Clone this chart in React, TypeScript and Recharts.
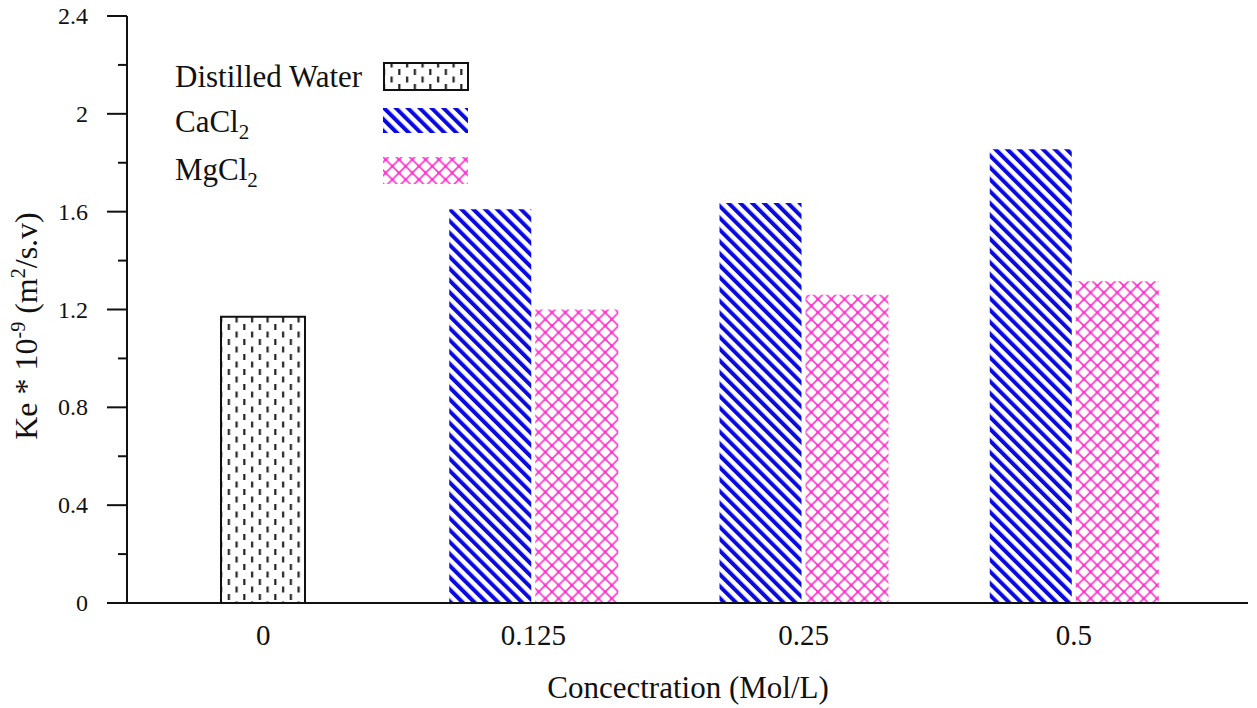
import React from 'react';
import { BarChart, Bar, XAxis, YAxis } from 'recharts';

const categories = ['0', '0.125', '0.25', '0.5'];
const distilledWater = [1.17, null, null, null];
const cacl2 = [null, 1.61, 1.635, 1.855];
const mgcl2 = [null, 1.2, 1.26, 1.315];
const yTicks = [0, 0.2, 0.4, 0.6, 0.8, 1.0, 1.2, 1.4, 1.6, 1.8, 2.0, 2.2, 2.4];
const majorTicks = [0, 0.4, 0.8, 1.2, 1.6, 2.0, 2.4];
const legendNames = ['Distilled Water', 'CaCl', 'MgCl'];
const xTitle = 'Concectration (Mol/L)';

const data = categories.map((c, i) => ({
  conc: c,
  water: distilledWater[i],
  ca: cacl2[i],
  mg: mgcl2[i],
}));

const FONT = "'Liberation Serif', Tinos, 'DejaVu Serif', serif";
const BLUE = '#0a0ae0';
const PINK = '#ff33cc';
const INK = '#111';
const fs = (size: number) => ({ fontFamily: FONT, fontSize: size });

const YTick = (props: any) => {
  const { x, y, payload } = props;
  const v = payload.value as number;
  const major = majorTicks.some((m) => Math.abs(m - v) < 1e-6);
  return (
    <g>
      <line x1={x - (major ? 20 : 9)} x2={x} y1={y} y2={y} stroke={INK} strokeWidth={2} />
      {major && (
        <text x={x - 39} y={y} textAnchor="end" dominantBaseline="central" style={fs(24)} fill={INK}>
          {String(v)}
        </text>
      )}
    </g>
  );
};

const XTick = (props: any) => {
  const { x, y, payload } = props;
  return (
    <text x={x} y={y} dy="0.71em" textAnchor="middle" style={fs(29)} fill={INK}>
      {payload.value}
    </text>
  );
};

const Patterns = () => (
  <svg width={0} height={0} style={{ position: 'absolute' }}>
    <defs>
      <pattern id="pWater" patternUnits="userSpaceOnUse" width={15.5} height={15}>
        <rect width={15.5} height={15} fill="#fff" />
        <rect x={3} y={1.5} width={2.2} height={6} fill="#222" />
        <rect x={10.75} y={9} width={2.2} height={6} fill="#222" />
      </pattern>
      <pattern id="pCa" patternUnits="userSpaceOnUse" width={8.4} height={8.4} patternTransform="rotate(-45)">
        <rect width={8.4} height={8.4} fill="#fff" />
        <rect width={4} height={8.4} fill={BLUE} />
      </pattern>
      <pattern id="pMg" patternUnits="userSpaceOnUse" width={13.3} height={13.3}>
        <rect width={13.3} height={13.3} fill="#fff" />
        <path d="M-3,-3 L16.3,16.3 M16.3,-3 L-3,16.3" stroke={PINK} strokeWidth={1.6} />
        <circle cx={6.65} cy={6.65} r={1.6} fill={PINK} />
        <circle cx={0} cy={0} r={1.6} fill={PINK} />
        <circle cx={13.3} cy={0} r={1.6} fill={PINK} />
        <circle cx={0} cy={13.3} r={1.6} fill={PINK} />
        <circle cx={13.3} cy={13.3} r={1.6} fill={PINK} />
      </pattern>
    </defs>
  </svg>
);

const Overlay = () => (
  <svg width={1257} height={708} style={{ position: 'absolute', left: 0, top: 0, pointerEvents: 'none' }}>
    <text x={175} y={87} style={fs(31)} fill={INK}>{legendNames[0]}</text>
    <rect x={384} y={63} width={84} height={27} fill="url(#pWater)" stroke={INK} strokeWidth={2} />
    <text x={175} y={132} style={fs(31)} fill={INK}>
      {legendNames[1]}
      <tspan dy={7} style={fs(21)}>2</tspan>
    </text>
    <rect x={383} y={108} width={85} height={25} fill="url(#pCa)" />
    <text x={175} y={180} style={fs(31)} fill={INK}>
      {legendNames[2]}
      <tspan dy={7} style={fs(21)}>2</tspan>
    </text>
    <rect x={383} y={157} width={85} height={27} fill="url(#pMg)" />
    <text x={688} y={698} textAnchor="middle" style={fs(31)} fill={INK}>{xTitle}</text>
    <text x={0} y={0} transform="translate(37,326) rotate(-90)" textAnchor="middle" style={fs(32)} fill={INK}>
      Ke * 10
      <tspan dy={-12} style={fs(20)}>-9</tspan>
      <tspan dy={12}> (m</tspan>
      <tspan dy={-12} style={fs(20)}>2</tspan>
      <tspan dy={12}>/s.v)</tspan>
    </text>
  </svg>
);

export default function App() {
  const pad = { left: 1, right: 39 };
  return (
    <div style={{ position: 'absolute', left: 0, top: 0, width: 1257, height: 708, background: '#fff', fontFamily: FONT }}>
      <Patterns />
      <BarChart
        width={1257}
        height={708}
        data={data}
        margin={{ top: 16, right: 9, bottom: 45, left: 0 }}
        barGap={4}
      >
        <XAxis
          xAxisId="main"
          dataKey="conc"
          height={60}
          padding={pad}
          tickLine={false}
          tickSize={0}
          tickMargin={21}
          axisLine={{ stroke: INK, strokeWidth: 2 }}
          tick={<XTick />}
        />
        <XAxis xAxisId="w" dataKey="conc" hide padding={pad} />
        <XAxis
          xAxisId="top"
          dataKey="conc"
          orientation="top"
          height={0}
          padding={pad}
          tick={false}
          tickLine={false}
          axisLine={{ stroke: INK, strokeWidth: 2 }}
        />
        <YAxis
          width={127}
          domain={[0, 2.4]}
          ticks={yTicks}
          interval={0}
          tickLine={false}
          tickSize={0}
          tickMargin={0}
          axisLine={{ stroke: INK, strokeWidth: 2 }}
          tick={<YTick />}
        />
        <YAxis
          yAxisId="r"
          orientation="right"
          width={0}
          domain={[0, 1]}
          tick={false}
          tickLine={false}
          axisLine={{ stroke: INK, strokeWidth: 2 }}
        />
        <Bar xAxisId="w" dataKey="water" barSize={84} fill="url(#pWater)" stroke={INK} strokeWidth={2} isAnimationActive={false} />
        <Bar xAxisId="main" dataKey="ca" barSize={82} fill="url(#pCa)" isAnimationActive={false} />
        <Bar xAxisId="main" dataKey="mg" barSize={83} fill="url(#pMg)" isAnimationActive={false} />
      </BarChart>
      <Overlay />
    </div>
  );
}
